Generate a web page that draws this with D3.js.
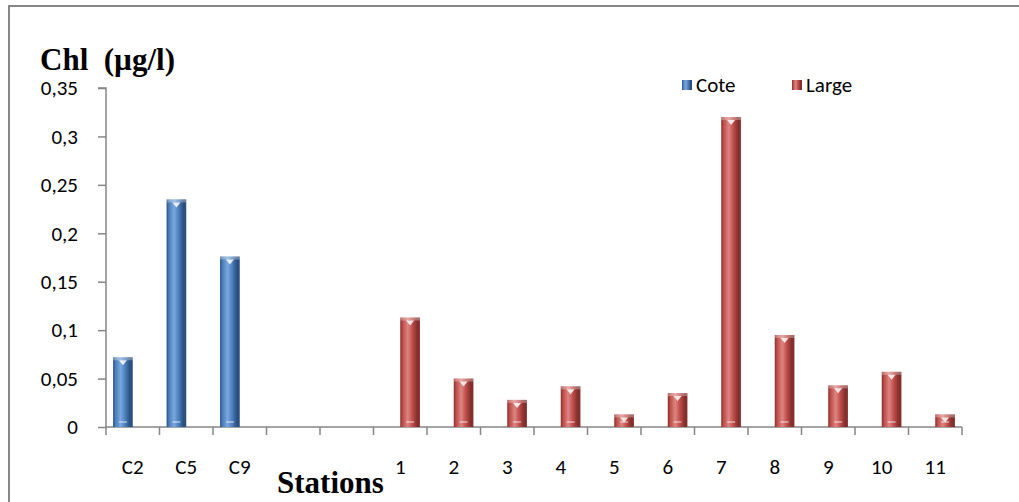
<!DOCTYPE html>
<html>
<head>
<meta charset="utf-8">
<script src="https://cdn.jsdelivr.net/npm/d3@7"></script>
<style>
  html, body { margin: 0; padding: 0; background: #ffffff; }
  svg { display: block; }
  .tick text { font-family: Carlito, Calibri, Lato, "Open Sans", sans-serif; }
</style>
</head>
<body>
<svg id="chart" width="1019" height="502"></svg>
<script>
// Stations and chlorophyll concentrations (µg/l)
const categories = ["C2", "C5", "C9", "", "", "1", "2", "3", "4", "5", "6", "7", "8", "9", "10", "11"];
const seriesNames = ["Cote", "Large"];
const coteValues  = [0.072, 0.235, 0.176, null, null, null, null, null, null, null, null, null, null, null, null, null];
const largeValues = [null, null, null, null, null, 0.113, 0.05, 0.028, 0.042, 0.013, 0.035, 0.32, 0.095, 0.043, 0.057, 0.013];
const yTickValues = [0, 0.05, 0.1, 0.15, 0.2, 0.25, 0.3, 0.35];
const yTickLabels = ["0", "0,05", "0,1", "0,15", "0,2", "0,25", "0,3", "0,35"];

const svg = d3.select("#chart");

// outer frame
svg.append("rect")
  .attr("x", 9).attr("y", 6)
  .attr("width", 1030).attr("height", 520)
  .attr("fill", "none").attr("stroke", "#868686").attr("stroke-width", 2);

const plotLeft = 106, plotRight = 962, plotTop = 88, plotBottom = 427;
const labelFont = 21;

const x = d3.scaleBand().domain(d3.range(categories.length)).range([plotLeft, plotRight]).padding(0);
const xSub = d3.scaleBand().domain(seriesNames).range([0, x.bandwidth()]).paddingInner(0).paddingOuter(0.36);
const y = d3.scaleLinear().domain([0, 0.35]).range([plotBottom, plotTop]);

// gradients giving the bars a rounded bevel look
const defs = svg.append("defs");
const palettes = {
  Cote:  { dark: "#2a4f80", mid: "#4a7ebb", light: "#7aa7de" },
  Large: { dark: "#842f2d", mid: "#bf4c49", light: "#dc8582" }
};
seriesNames.forEach(name => {
  const p = palettes[name];
  const g = defs.append("linearGradient").attr("id", "grad-" + name)
    .attr("x1", "0%").attr("x2", "100%").attr("y1", "0%").attr("y2", "0%");
  [[0, p.dark], [0.12, p.mid], [0.38, p.light], [0.62, p.mid], [0.86, p.dark], [1, p.dark]]
    .forEach(([o, c]) => g.append("stop").attr("offset", o).attr("stop-color", c));
});

// y axis
const yAxis = d3.axisLeft(y).tickValues(yTickValues)
  .tickFormat((d, i) => yTickLabels[i]).tickSize(8).tickPadding(20);
const gy = svg.append("g").attr("transform", `translate(${plotLeft},0)`).call(yAxis);
gy.select(".domain").attr("stroke", "#868686").attr("stroke-width", 1.5).attr("d", `M-8,${plotTop}H0V${plotBottom}`);
gy.selectAll(".tick line").attr("stroke", "#868686").attr("stroke-width", 1.5);
gy.selectAll(".tick text").attr("font-size", labelFont).attr("fill", "#000");

// x axis: labels centred in each station slot
const xAxis = d3.axisBottom(x).tickFormat(i => categories[i]).tickSize(0).tickPadding(32);
const gx = svg.append("g").attr("transform", `translate(0,${plotBottom})`).call(xAxis);
gx.select(".domain").attr("stroke", "#868686").attr("stroke-width", 1.5).attr("d", `M${plotLeft},0H${plotRight}`);
gx.selectAll(".tick text").attr("font-size", labelFont).attr("fill", "#000");

// boundary tick marks between stations
const bounds = d3.range(categories.length + 1).map(i => plotLeft + i * x.step());
svg.append("g").selectAll("line").data(bounds).join("line")
  .attr("x1", d => d).attr("x2", d => d)
  .attr("y1", plotBottom).attr("y2", plotBottom + 8)
  .attr("stroke", "#868686").attr("stroke-width", 1.5);

// bars
const series = [
  { name: "Cote", values: coteValues },
  { name: "Large", values: largeValues }
];
series.forEach(s => {
  const pts = s.values.map((v, i) => ({ i, v })).filter(d => d.v !== null);
  const g = svg.append("g");
  const bw = xSub.bandwidth();
  const bx = d => x(d.i) + xSub(s.name);
  g.selectAll("rect.bar").data(pts).join("rect").attr("class", "bar")
    .attr("x", bx).attr("y", d => y(d.v))
    .attr("width", bw).attr("height", d => plotBottom - y(d.v))
    .attr("fill", `url(#grad-${s.name})`);
  // lighter bevel at the top
  g.selectAll("rect.cap").data(pts).join("rect").attr("class", "cap")
    .attr("x", bx).attr("y", d => y(d.v))
    .attr("width", bw).attr("height", d => Math.min(3, plotBottom - y(d.v)))
    .attr("fill", "#ffffff").attr("opacity", 0.3);
  // small highlight triangle near the top
  g.selectAll("path.tri").data(pts).join("path").attr("class", "tri")
    .attr("d", d => {
      const cx = bx(d) + bw / 2, t = y(d.v) + 3;
      return `M${cx - 4},${t}L${cx + 4},${t}L${cx},${t + 5}Z`;
    })
    .attr("fill", "#ffffff").attr("opacity", 0.85);
  // faint highlight near the base
  g.selectAll("rect.base").data(pts).join("rect").attr("class", "base")
    .attr("x", d => bx(d) + bw / 2 - 4).attr("y", plotBottom - 6)
    .attr("width", 8).attr("height", 2)
    .attr("fill", "#ffffff").attr("opacity", 0.4);
});

// legend
const legend = svg.append("g").attr("font-family", "Carlito, Calibri, Lato, 'Open Sans', sans-serif").attr("font-size", labelFont);
const legendPos = [{ name: "Cote", x: 682 }, { name: "Large", x: 792 }];
legendPos.forEach(l => {
  legend.append("rect").attr("x", l.x).attr("y", 80).attr("width", 10).attr("height", 10)
    .attr("fill", `url(#grad-${l.name})`);
  legend.append("text").attr("x", l.x + 14).attr("y", 92).text(l.name).attr("fill", "#000");
});

// axis titles
const titleFont = "'Liberation Serif', 'Times New Roman', serif";
svg.append("text").attr("x", 40).attr("y", 70)
  .attr("font-family", titleFont)
  .attr("font-weight", "bold").attr("font-size", 31).text("Chl\u00a0\u00a0(µg/l)");
svg.append("text").attr("x", 277).attr("y", 493)
  .attr("font-family", titleFont)
  .attr("font-weight", "bold").attr("font-size", 31).text("Stations");
</script>
</body>
</html>
